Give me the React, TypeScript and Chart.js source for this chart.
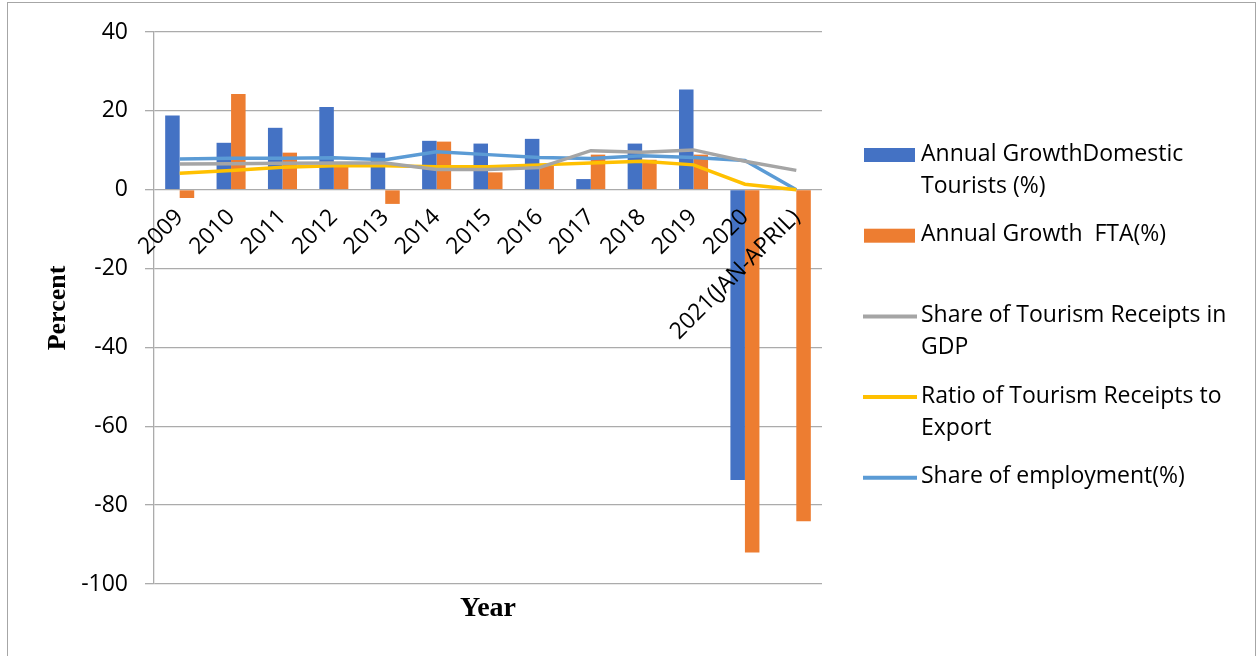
import React, { useEffect, useRef } from "react";
import { Chart, registerables } from "chart.js";

Chart.register(...registerables);

const categories = [
  "2009", "2010", "2011", "2012", "2013", "2014", "2015",
  "2016", "2017", "2018", "2019", "2020", "2021(JAN-APRIL)",
];
const domesticGrowth = [18.8, 11.9, 15.7, 21.0, 9.4, 12.4, 11.7, 12.9, 2.7, 11.7, 25.4, -73.6, null];
const ftaGrowth = [-2.1, 24.3, 9.4, 6.1, -3.6, 12.2, 4.4, 6.2, 8.9, 7.6, 8.9, -92.0, -84.1];
const gdpShare = [6.5, 6.6, 6.7, 6.8, 6.8, 5.1, 5.1, 5.6, 9.9, 9.5, 10.1, 7.2, 4.9];
const exportRatio = [4.2, 4.9, 5.7, 6.1, 6.1, 5.8, 5.8, 6.3, 6.8, 7.2, 6.3, 1.4, 0];
const employmentShare = [7.8, 8.0, 8.0, 8.1, 7.6, 9.6, 8.9, 8.2, 7.9, 8.6, 8.2, 7.4, 0];

const seriesNames = [
  "Annual GrowthDomestic Tourists (%)",
  "Annual Growth  FTA(%)",
  "Share of Tourism Receipts in GDP",
  "Ratio of Tourism Receipts to Export",
  "Share of employment(%)",
];
const seriesColors = ["#4472C4", "#ED7D31", "#A5A5A5", "#FFC000", "#5B9BD5"];

const Y_MIN = -100;
const Y_MAX = 40;
const Y_STEP = 20;

const TICK_FONT = { family: "'Open Sans'", size: 23 };
const GRID_COLOR = "#ababab";

function wrapText(ctx: CanvasRenderingContext2D, text: string, maxWidth: number): string[] {
  const words = text.split(" ");
  const lines: string[] = [];
  let cur = "";
  for (let i = 0; i < words.length; i++) {
    const w = words[i];
    const test = cur === "" ? w : cur + " " + w;
    if (cur !== "" && w !== "" && ctx.measureText(test).width > maxWidth) {
      lines.push(cur);
      cur = w;
    } else {
      cur = test;
    }
  }
  if (cur !== "") lines.push(cur);
  return lines;
}

const legendPlugin = {
  id: "customLegend",
  afterDraw(chart: any) {
    const ctx: CanvasRenderingContext2D = chart.ctx;
    const area = chart.chartArea;
    const swatchX = area.right + 42;
    const textX = area.right + 99;
    const firstY = area.top + 122;
    const pitch = 80.7;
    const lineGap = 32;
    ctx.save();
    ctx.font = "23px 'Open Sans'";
    ctx.fillStyle = "#000";
    ctx.textBaseline = "middle";
    ctx.textAlign = "left";
    chart.data.datasets.forEach((ds: any, i: number) => {
      const y = firstY + i * pitch;
      const lines = wrapText(ctx, ds.label, 330);
      if (ds.type === "bar") {
        ctx.fillStyle = ds.backgroundColor;
        ctx.fillRect(swatchX, y - 6, 51, 14);
      } else {
        ctx.strokeStyle = ds.borderColor;
        ctx.lineWidth = 4;
        ctx.beginPath();
        ctx.moveTo(swatchX - 1, y + 1);
        ctx.lineTo(swatchX + 53, y + 1);
        ctx.stroke();
      }
      ctx.fillStyle = "#000";
      lines.forEach((ln, k) => ctx.fillText(ln, textX, y + k * lineGap));
    });
    ctx.restore();
  },
};

export default function App() {
  const canvasRef = useRef<HTMLCanvasElement | null>(null);

  useEffect(() => {
    const canvas = canvasRef.current;
    if (!canvas) return;
    const chart = new Chart(canvas, {
      type: "bar",
      data: {
        labels: categories,
        datasets: [
          {
            type: "bar",
            label: seriesNames[0],
            data: domesticGrowth,
            backgroundColor: seriesColors[0],
            xAxisID: "x",
            order: 2,
            categoryPercentage: 0.565,
            barPercentage: 1,
          },
          {
            type: "bar",
            label: seriesNames[1],
            data: ftaGrowth,
            backgroundColor: seriesColors[1],
            xAxisID: "x",
            order: 2,
            categoryPercentage: 0.565,
            barPercentage: 1,
          },
          {
            type: "line",
            label: seriesNames[2],
            data: gdpShare,
            borderColor: seriesColors[2],
            backgroundColor: seriesColors[2],
            borderWidth: 3.5,
            pointRadius: 0,
            tension: 0,
            xAxisID: "x",
            order: 1,
          },
          {
            type: "line",
            label: seriesNames[3],
            data: exportRatio,
            borderColor: seriesColors[3],
            backgroundColor: seriesColors[3],
            borderWidth: 3.5,
            pointRadius: 0,
            tension: 0,
            xAxisID: "x",
            order: 1,
          },
          {
            type: "line",
            label: seriesNames[4],
            data: employmentShare,
            borderColor: seriesColors[4],
            backgroundColor: seriesColors[4],
            borderWidth: 3.5,
            pointRadius: 0,
            tension: 0,
            xAxisID: "x",
            order: 1,
          },
        ] as any,
      },
      options: {
        responsive: false,
        animation: false,
        devicePixelRatio: 1,
        layout: { padding: { left: 0, top: 29, right: 433, bottom: 0 } },
        plugins: {
          legend: { display: false },
          tooltip: { enabled: false },
        },
        scales: {
          x: {
            type: "category",
            position: "bottom",
            offset: true,
            grid: { display: false },
            border: { display: false },
            ticks: { display: false },
            title: {
              display: true,
              text: "Year",
              color: "#000",
              font: { family: "'Liberation Serif'", size: 28, weight: "bold" },
              padding: { top: 0, bottom: 30 },
            },
            afterFit: (s: any) => {
              s.height = 72;
              s.paddingLeft = 0;
              s.paddingRight = 0;
            },
          },
          x2: {
            type: "category",
            labels: categories,
            position: { y: 0 },
            offset: true,
            grid: { display: false },
            border: { display: false },
            ticks: {
              autoSkip: false,
              maxRotation: 45,
              minRotation: 45,
              font: TICK_FONT,
              color: "#000",
              padding: 6,
              z: 2,
            },
            afterFit: (s: any) => {
              s.height = 0;
              s.paddingLeft = 0;
              s.paddingRight = 0;
              s.paddingTop = 0;
              s.paddingBottom = 0;
            },
          },
          y: {
            type: "linear",
            min: Y_MIN,
            max: Y_MAX,
            ticks: { stepSize: Y_STEP, font: TICK_FONT, color: "#000", padding: 17 },
            grid: { color: GRID_COLOR, lineWidth: 1.3, tickLength: 9 },
            border: { color: GRID_COLOR, width: 1.3 },
            title: {
              display: true,
              text: "Percent",
              color: "#000",
              font: { family: "'Liberation Serif'", size: 26, weight: "bold" },
              padding: { top: 35, bottom: 0 },
            },
            afterFit: (s: any) => {
              s.width = 146;
              s.paddingTop = 0;
              s.paddingBottom = 0;
            },
          },
        } as any,
      },
      plugins: [legendPlugin],
    });
    return () => chart.destroy();
  }, []);

  return (
    <div
      style={{
        position: "absolute",
        left: 7,
        top: 2,
        width: 1247,
        height: 653,
        borderTop: "1px solid #a6a6a6",
        borderLeft: "1px solid #a6a6a6",
        borderRight: "1px solid #a6a6a6",
        background: "#fff",
      }}
    >
      <canvas ref={canvasRef} width={1247} height={653} style={{ display: "block" }} />
    </div>
  );
}
